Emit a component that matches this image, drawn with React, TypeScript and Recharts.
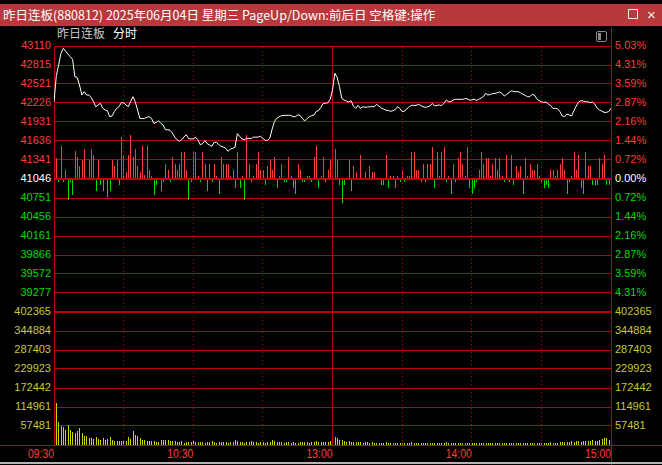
import React from 'react';
import { ComposedChart, Line, Bar, Cell, XAxis, YAxis, CartesianGrid, ReferenceLine } from 'recharts';

const prevClose = 41046;
const priceTicks = [43110, 42815, 42521, 42226, 41931, 41636, 41341, 41046, 40751, 40456, 40161, 39866, 39572, 39277];
const pctTicks = [5.03, 4.31, 3.59, 2.87, 2.16, 1.44, 0.72, 0, -0.72, -1.44, -2.16, -2.87, -3.59, -4.31];
const volTicks = [0, 57481, 114961, 172442, 229923, 287403, 344884, 402365];
const timeTicks = [0, 60, 120, 180, 240];
const timeLabels = ['09:30', '10:30', '13:00', '14:00', '15:00'];
const halfHours = [30, 60, 90, 150, 180, 210];
const lunch = 120;

// minute-by-minute index level (09:30 .. 15:00)
const price = [
  42246, 42650, 42815, 42997, 43074, 43030, 42985, 42944, 42903, 42634,
  42620, 42505, 42350, 42401, 42350, 42350, 42313, 42246, 42168, 42194,
  42220, 42143, 42117, 42106, 42013, 42024, 42091, 42143, 42168, 42230,
  42230, 42194, 42168, 42246, 42323, 42246, 42117, 41988, 41983, 41988,
  42003, 42013, 41988, 41910, 41920, 41951, 41910, 41884, 41811, 41811,
  41801, 41760, 41698, 41656, 41630, 41656, 41698, 41734, 41672, 41667,
  41672, 41693, 41656, 41578, 41594, 41641, 41594, 41573, 41553, 41615,
  41615, 41578, 41553, 41542, 41522, 41475, 41511, 41522, 41542, 41749,
  41708, 41667, 41656, 41677, 41677, 41672, 41698, 41693, 41698, 41708,
  41677, 41646, 41646, 41682, 41822, 41940, 41988, 42013, 42029, 42034,
  42034, 42034, 42034, 42013, 42013, 42039, 42034, 41988, 41946, 41983,
  42013, 42029, 42039, 42096, 42106, 42158, 42220, 42220, 42230, 42282,
  42427, 42686, 42624, 42479, 42297, 42271, 42256, 42240, 42261, 42178,
  42142, 42189, 42142, 42168, 42158, 42163, 42168, 42168, 42168, 42204,
  42178, 42147, 42132, 42112, 42112, 42096, 42106, 42122, 42168, 42142,
  42091, 42101, 42132, 42168, 42189, 42189, 42189, 42204, 42189, 42168,
  42158, 42168, 42178, 42220, 42178, 42189, 42194, 42184, 42220, 42271,
  42246, 42246, 42271, 42282, 42282, 42282, 42282, 42292, 42292, 42271,
  42271, 42287, 42266, 42282, 42302, 42323, 42375, 42349, 42359, 42370,
  42375, 42385, 42395, 42375, 42333, 42359, 42385, 42416, 42406, 42401,
  42401, 42385, 42364, 42344, 42323, 42323, 42359, 42349, 42292, 42261,
  42246, 42235, 42240, 42209, 42184, 42142, 42142, 42137, 42091, 42024,
  42013, 42055, 42039, 42024, 42106, 42178, 42240, 42261, 42256, 42246,
  42246, 42230, 42240, 42209, 42147, 42117, 42101, 42080, 42080, 42091,
  42142,
];

// red/green strength bars around the zero line
const flow = [
  0, 21, -3, 33, -3, 9, -21, -3, -16, 28,
  22, 13, 19, 30, 0, 19, 30, 24, -12, 19,
  -6, -12, 0, -18, -12, 19, 13, 19, -6, 42,
  24, 7, 24, 44, 22, 30, 13, 7, 33, 4,
  33, 9, 3, -16, -6, 0, -12, -3, 15, 9,
  -3, 22, 15, 9, 15, 27, 27, 9, -21, -3,
  27, 27, 3, -3, 27, 15, -12, 15, -3, 15,
  3, -15, 22, 15, 15, 15, 3, 9, -9, 27,
  -9, 3, -21, 44, 15, -3, 3, 15, 27, 9,
  9, -6, 13, 19, 9, 22, -9, 3, 15, -3,
  -3, 22, 3, -9, -15, 15, 9, -3, -3, 3,
  3, -3, 22, 33, -9, 3, 22, -3, 9, 19,
  24, 30, 19, -6, -24, -6, 0, 19, -12, 13,
  7, 0, 24, 0, 7, 0, 13, 7, 7, 0,
  0, -6, -6, 24, -9, 3, 3, -9, 3, -3,
  9, -3, 3, 3, 27, 27, 9, 9, -3, 15,
  -3, 15, 15, 32, -9, 27, 3, 27, 32, -3,
  3, -15, 15, -3, 21, 27, 15, 3, 32, -9,
  -15, -9, -3, 9, 27, 15, 21, 21, 3, 15,
  21, 9, 21, 3, -3, 24, -3, 24, -6, 13,
  7, 13, -15, 21, 3, 15, 9, 9, 15, 3,
  -3, -9, -6, -9, 9, 9, 3, 9, 15, 21,
  9, -15, -3, 3, 27, 9, 24, -9, -15, 27,
  13, 13, -6, -6, -6, 21, 15, 24, -6, -6,
  24,
];

const volume = [
  366000, 126000, 69000, 57000, 55000, 45000, 60000, 45000, 39000, 37000,
  42000, 52000, 37000, 28000, 27000, 22000, 22000, 19000, 24000, 19000,
  15000, 21000, 15000, 19000, 24000, 15000, 12000, 12000, 12000, 12000,
  12000, 12000, 25000, 19000, 42000, 31000, 28000, 22000, 15000, 15000,
  12000, 12000, 12000, 12000, 9000, 9000, 15000, 15000, 15000, 15000,
  12000, 12000, 12000, 9000, 9000, 12000, 7000, 9000, 9000, 9000,
  11000, 9000, 9000, 8000, 10000, 7000, 9000, 8000, 12000, 9000,
  7000, 8000, 10000, 9000, 8000, 7000, 9000, 8000, 14000, 11000,
  9000, 8000, 7000, 8000, 9000, 12000, 10000, 8000, 7000, 9000,
  8000, 7000, 8000, 9000, 15000, 12000, 10000, 9000, 8000, 7000,
  8000, 9000, 7000, 8000, 7000, 6000, 8000, 9000, 10000, 8000,
  7000, 9000, 8000, 11000, 10000, 9000, 8000, 9000, 10000, 12000,
  18000, 24000, 20000, 15000, 14000, 12000, 10000, 11000, 9000, 10000,
  8000, 9000, 8000, 7000, 8000, 9000, 7000, 8000, 7000, 6000,
  7000, 6000, 7000, 8000, 6000, 5000, 6000, 7000, 6000, 5000,
  6000, 7000, 5000, 6000, 8000, 7000, 6000, 5000, 6000, 5000,
  6000, 5000, 7000, 6000, 5000, 6000, 5000, 6000, 7000, 8000,
  6000, 5000, 6000, 5000, 6000, 7000, 5000, 6000, 5000, 6000,
  5000, 6000, 5000, 6000, 7000, 6000, 5000, 6000, 5000, 5000,
  6000, 5000, 6000, 7000, 5000, 6000, 5000, 6000, 5000, 6000,
  5000, 6000, 7000, 6000, 5000, 6000, 5000, 6000, 7000, 6000,
  6000, 7000, 6000, 7000, 8000, 7000, 6000, 7000, 8000, 9000,
  10000, 9000, 10000, 11000, 10000, 12000, 11000, 10000, 12000, 13000,
  13000, 12000, 14000, 13000, 12000, 16000, 18000, 20000, 21000, 15000,
  36000,
];

const data = price.map((p, i) => ({ t: i, price: p, flow: flow[i], vol: volume[i] }));

const RED = '#ff3c3c';
const GREEN = '#00dc00';
const GRID = '#c00000';
const OLIVE = '#c8c832';
const YELLOW = '#d2d200';
const NUM_FONT = '"Liberation Sans", Arial, sans-serif';
const CJK_FONT = '"Noto Sans CJK SC", "Noto Sans", sans-serif';

const W = 662;

const signColor = (v: number, base: number) => (v > base ? RED : v < base ? GREEN : '#ffffff');

const PriceTick = (props: any) => {
  const { x, y, payload } = props;
  return (
    <text x={x} y={y - 1} textAnchor="end" dominantBaseline="central" fontSize={11} fontFamily={NUM_FONT}
      fill={signColor(payload.value, prevClose)}>{payload.value}</text>
  );
};

const PctTick = (props: any) => {
  const { x, y, payload } = props;
  return (
    <text x={x} y={y - 1} textAnchor="start" dominantBaseline="central" fontSize={11} fontFamily={NUM_FONT}
      fill={signColor(payload.value, 0)}>{Math.abs(payload.value).toFixed(2) + '%'}</text>
  );
};

const VolTick = (props: any) => {
  const { x, y, payload, anchor } = props;
  if (payload.value === 0) return <g />;
  return (
    <text x={x} y={y - 1} textAnchor={anchor} dominantBaseline="central" fontSize={11} fontFamily={NUM_FONT}
      fill={OLIVE}>{payload.value}</text>
  );
};

// narrow, tall time labels, right-aligned to their grid line
const TimeTick = (props: any) => {
  const { x, y, payload } = props;
  const label = timeLabels[timeTicks.indexOf(payload.value)];
  return (
    <text x={x} y={y + 8} textAnchor="end" dominantBaseline="central" fontSize={13}
      transform={`translate(${x},0) scale(0.8,1) translate(${-x},0)`}
      fontFamily={NUM_FONT} fill={RED}>{label}</text>
  );
};

const timeLines = (yAxisId: string | number) => [
  ...halfHours.map((h) => (
    <ReferenceLine key={'h' + h} x={h} yAxisId={yAxisId} stroke={GRID} strokeDasharray="1 3" />
  )),
  <ReferenceLine key="lunch" x={lunch} yAxisId={yAxisId} stroke={GRID} />,
  <ReferenceLine key="left" x={0} yAxisId={yAxisId} stroke={GRID} />,
];

export default function App() {
  return (
    <div style={{ position: 'absolute', left: 0, top: 0, width: W, height: 465, background: '#000', overflow: 'hidden' }}>
      <style>{`.fs line, .fs path.recharts-rectangle { shape-rendering: crispEdges; }`}</style>

      {/* title bar */}
      <div style={{ position: 'absolute', left: 0, top: 4, width: W, height: 22, background: '#b8393b' }} />
      <div style={{ position: 'absolute', left: 3, top: 4, height: 22, lineHeight: '22px', color: '#fff', fontSize: 12.5, fontFamily: CJK_FONT, whiteSpace: 'nowrap' }}>
        昨日连板(880812) 2025年06月04日 星期三 PageUp/Down:前后日 空格键:操作
      </div>
      <div style={{ position: 'absolute', left: 628, top: 9, width: 8, height: 8, border: '1px solid #e8e8e8' }} />
      <div style={{ position: 'absolute', left: 647, top: 4, height: 22, lineHeight: '22px', color: '#e8e8e8', fontSize: 15, fontFamily: NUM_FONT }}>×</div>

      {/* sub header */}
      <div style={{ position: 'absolute', left: 57, top: 26, height: 14, lineHeight: '14px', color: '#c8c8c8', fontSize: 12, fontFamily: CJK_FONT, whiteSpace: 'nowrap' }}>
        昨日连板
      </div>
      <div style={{ position: 'absolute', left: 113, top: 26, height: 14, lineHeight: '14px', color: '#ffffff', fontSize: 12, fontFamily: CJK_FONT, whiteSpace: 'nowrap' }}>
        分时
      </div>
      <div style={{ position: 'absolute', left: 596, top: 31, width: 9, height: 9, border: '1px solid #8a8a8a', borderRadius: 2 }}>
        <div style={{ position: 'absolute', left: 1, top: 1, width: 3, height: 7, background: '#8a8a8a' }} />
      </div>

      {/* price panel */}
      <div className="fs" style={{ position: 'absolute', left: 0, top: 0 }}>
        <ComposedChart width={W} height={330} data={data} margin={{ top: 46, right: 0, bottom: 18, left: 0 }}>
          <XAxis dataKey="t" type="number" domain={[0, 240]} allowDataOverflow hide />
          <YAxis domain={[priceTicks[priceTicks.length - 1] - (priceTicks[0] - priceTicks[1]), priceTicks[0]]} allowDataOverflow
            ticks={priceTicks} interval={0} width={54} axisLine={false} tickLine={false} tickSize={0} tickMargin={3} tick={<PriceTick />} />
          <YAxis yAxisId="pct" orientation="right" domain={[-pctTicks[0], pctTicks[0]]} allowDataOverflow
            ticks={pctTicks} interval={0} width={51} axisLine={false} tickLine={false} tickSize={0} tickMargin={4} tick={<PctTick />} />
          <YAxis yAxisId="flow" domain={[-133, 133]} allowDataOverflow hide />
          <CartesianGrid vertical={false} stroke={GRID} />
          {timeLines(0)}
          <ReferenceLine y={prevClose} stroke={GRID} strokeWidth={2} />
          <Bar dataKey="flow" yAxisId="flow" barSize={1} isAnimationActive={false}>
            {data.map((d) => (
              <Cell key={d.t} fill={d.flow >= 0 ? RED : GREEN} />
            ))}
          </Bar>
          <Line dataKey="price" type="linear" stroke="#ffffff" strokeWidth={1} dot={false} isAnimationActive={false} />
        </ComposedChart>
      </div>

      {/* volume panel */}
      <div className="fs" style={{ position: 'absolute', left: 0, top: 300 }}>
        <ComposedChart width={W} height={165} data={data} margin={{ top: 12, right: 0, bottom: 0, left: 0 }}>
          <XAxis dataKey="t" type="number" domain={[0, 240]} allowDataOverflow ticks={timeTicks} interval={0}
            height={20} axisLine={false} tickLine={false} tickSize={0} tickMargin={0} tick={<TimeTick />} />
          <YAxis domain={[0, volTicks[volTicks.length - 1]]} allowDataOverflow ticks={volTicks} interval={0} width={54}
            axisLine={false} tickLine={false} tickSize={0} tickMargin={3} tick={<VolTick anchor="end" />} />
          <YAxis yAxisId="volR" orientation="right" domain={[0, volTicks[volTicks.length - 1]]} allowDataOverflow ticks={volTicks}
            interval={0} width={51} axisLine={false} tickLine={false} tickSize={0} tickMargin={4} tick={<VolTick anchor="start" />} />
          <CartesianGrid vertical={false} stroke={GRID} />
          {timeLines(0)}
          <ReferenceLine y={volTicks[volTicks.length - 1]} stroke={GRID} strokeWidth={2} />
          <Bar dataKey="vol" barSize={1} fill={YELLOW} isAnimationActive={false} />
        </ComposedChart>
      </div>

      {/* frame */}
      <div style={{ position: 'absolute', left: 611, top: 27, width: 1, height: 438, background: GRID }} />
      <div style={{ position: 'absolute', left: 0, top: 445, width: W, height: 1, background: GRID }} />
      <div style={{ position: 'absolute', left: 0, top: 462, width: W, height: 2, background: '#b4b4b4' }} />
    </div>
  );
}
